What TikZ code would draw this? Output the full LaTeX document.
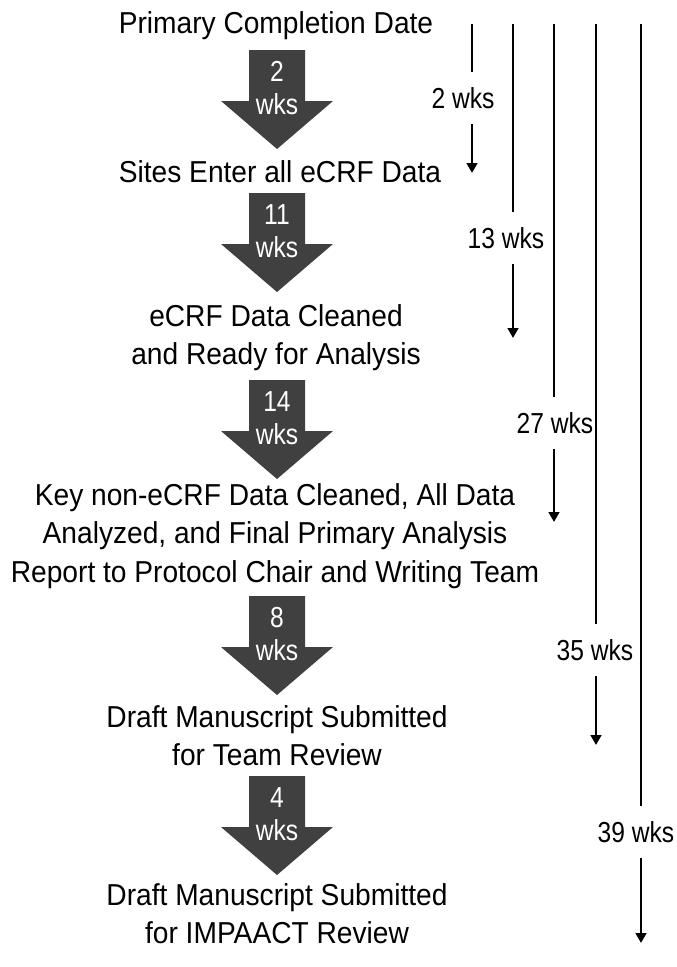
\documentclass[tikz,border=0pt]{standalone}
\usepackage{fontspec}
\setmainfont{Liberation Sans}[FakeStretch=0.93]
\newfontfamily\wkfont{Liberation Sans}[FakeStretch=0.85]
\usetikzlibrary{arrows.meta}
\definecolor{arrowgray}{RGB}{64,64,64}
\tikzset{
  stage/.style={align=center, inner sep=0pt, font=\fontsize{22.7}{28.7}\selectfont},
  wklabel/.style={align=center, inner sep=0pt, text=white, font=\wkfont\fontsize{21.7}{24.75}\selectfont},
  spanlabel/.style={inner sep=0pt, minimum height=39pt, font=\wkfont\fontsize{21.7}{24.75}\selectfont},
  span/.style={line width=2pt},
}
\begin{document}
\begin{tikzpicture}[x=0.75pt, y=-0.75pt]
  \useasboundingbox (0,0) rectangle (676,967);
  % milestones
  \node[stage] (start) at (276,26) {Primary Completion Date};
  \node[stage] (sites) at (280,172) {Sites Enter all eCRF Data};
  \node[stage] (cleaned) at (276,338) {eCRF Data Cleaned\\and Ready for Analysis};
  \node[stage] (keydata) at (275,536) {Key non-eCRF Data Cleaned, All Data\\Analyzed, and Final Primary Analysis\\Report to Protocol Chair and Writing Team};
  \node[stage] (teamrev) at (277,736) {Draft Manuscript Submitted\\for Team Review};
  \node[stage] (impaactrev) at (277,914) {Draft Manuscript Submitted\\for IMPAACT Review};
  % block arrows between milestones
  \foreach \y/\n [count=\i] in {50/2, 193/11, 380/14, 596/8, 776/4} {
    \fill[arrowgray] (249,\y) -- (305,\y) -- (305,\y+51) -- (333,\y+51)
      -- (277,\y+99) -- (221,\y+51) -- (249,\y+51) -- cycle;
    \node[wklabel] (wk\i) at (277,\y+38) {\n\\wks};
  }
  % cumulative spans on the right
  \foreach \x/\lx/\ly/\yb/\t [count=\i] in {472/463/98/173/2, 513/506/238/338/13,
      554/555/423/522/27, 596/595/650/745/35, 641/636/832/943/39} {
    \coordinate (top\i) at (\x,24);
    \coordinate (end\i) at (\x,\yb);
    \node[spanlabel] (lab\i) at (\lx,\ly) {\t{} wks};
    \draw[span] (top\i) -- (top\i |- lab\i.north);
    \draw[span, -{Triangle[width=8pt,length=7.5pt]}] (top\i |- lab\i.south) -- (end\i);
  }
\end{tikzpicture}
\end{document}
